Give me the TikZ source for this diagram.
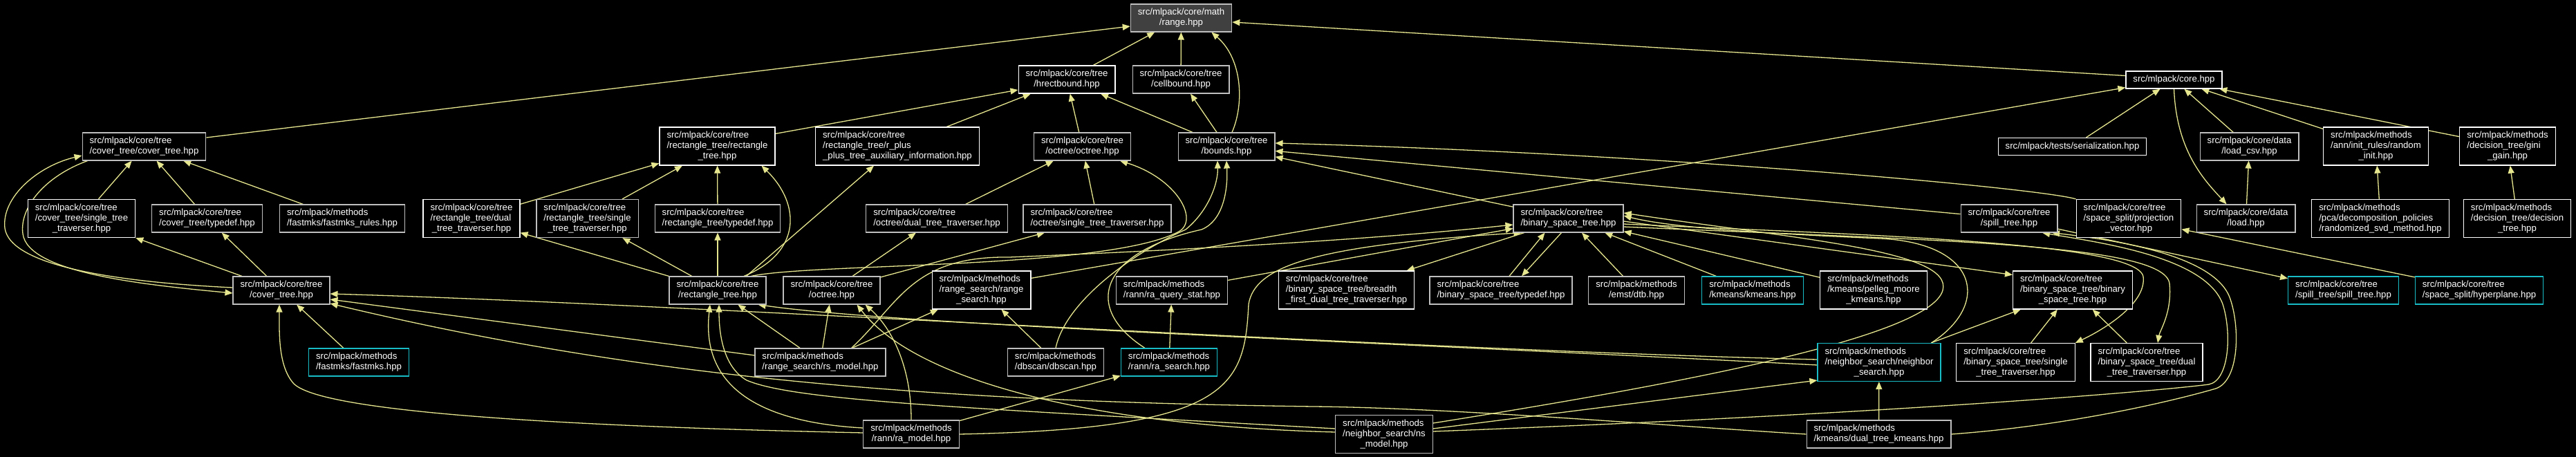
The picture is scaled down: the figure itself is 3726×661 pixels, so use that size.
\documentclass[tikz,border=0pt]{standalone}
\usepackage{fontspec}
\setmainfont{Liberation Sans}
\usetikzlibrary{arrows.meta,calc}
\definecolor{edgec}{RGB}{230,230,143}
\definecolor{gborder}{RGB}{191,191,191}
\definecolor{cborder}{RGB}{24,188,198}
\definecolor{rootfill}{RGB}{64,64,64}
\newcommand{\txtA}[1]{\begin{tabular}{@{}c@{}}#1\end{tabular}}
\newcommand{\txtB}[2]{\begin{tabular}{@{}l@{}}#1\\\multicolumn{1}{@{}c@{}}{#2}\end{tabular}}
\newcommand{\txtC}[3]{\begin{tabular}{@{}l@{}}#1\\#2\\\multicolumn{1}{@{}c@{}}{#3}\end{tabular}}
\pgfdeclarelayer{back}
\pgfdeclarelayer{edges}
\pgfsetlayers{back,edges,main}
\tikzset{
  nbase/.style={rectangle, fill=black, text=white, line width=1.2pt, inner xsep=10.5pt, inner ysep=5pt, font=\fontsize{13.2}{15}\selectfont},
  wbox/.style={nbase, draw=white},
  gbox/.style={nbase, draw=gborder},
  cbox/.style={nbase, draw=cborder},
  rbox/.style={nbase, draw=gborder, fill=rootfill},
  conn/.style={draw=edgec, line width=1.3pt, -{Triangle[length=11pt,width=9pt]}},
}
\begin{document}
\begin{tikzpicture}[x=1pt,y=-1pt]
\useasboundingbox (0,0) rectangle (3726,661);
\begin{pgfonlayer}{back}
\fill[black] (0,0) rectangle (3726,661);
\end{pgfonlayer}
% rank 0 / 1
\node[rbox] (range) at (1708.5,26) {\txtB{src/mlpack/core/math}{/range.hpp}};
\node[wbox] (hrect) at (1543,115) {\txtB{src/mlpack/core/tree}{/hrectbound.hpp}};
\node[gbox] (cell) at (1708,115) {\txtB{src/mlpack/core/tree}{/cellbound.hpp}};
\node[wbox] (core) at (3144.5,115.5) {\txtA{src/mlpack/core.hpp}};
% rank 2
\node[gbox] (ctct) at (208.5,212) {\txtB{src/mlpack/core/tree}{/cover\_tree/cover\_tree.hpp}};
\node[wbox] (rtrt) at (1037.5,211.5) {\txtC{src/mlpack/core/tree}{/rectangle\_tree/rectangle}{\_tree.hpp}};
\node[wbox] (rpp) at (1298,211.5) {\txtC{src/mlpack/core/tree}{/rectangle\_tree/r\_plus}{\_plus\_tree\_auxiliary\_information.hpp}};
\node[gbox] (octoct) at (1565.5,212) {\txtB{src/mlpack/core/tree}{/octree/octree.hpp}};
\node[gbox] (bounds) at (1774,212) {\txtB{src/mlpack/core/tree}{/bounds.hpp}};
\node[wbox] (serial) at (2997.5,212) {\txtA{src/mlpack/tests/serialization.hpp}};
\node[gbox] (loadcsv) at (3253.5,212) {\txtB{src/mlpack/core/data}{/load\_csv.hpp}};
\node[wbox] (rinit) at (3436.5,211.5) {\txtC{src/mlpack/methods}{/ann/init\_rules/random}{\_init.hpp}};
\node[wbox] (gini) at (3627,211.5) {\txtC{src/mlpack/methods}{/decision\_tree/gini}{\_gain.hpp}};
% rank 3
\node[wbox] (ctst) at (118,316) {\txtC{src/mlpack/core/tree}{/cover\_tree/single\_tree}{\_traverser.hpp}};
\node[gbox] (cttd) at (299.5,316) {\txtB{src/mlpack/core/tree}{/cover\_tree/typedef.hpp}};
\node[gbox] (fmr) at (495,316) {\txtB{src/mlpack/methods}{/fastmks/fastmks\_rules.hpp}};
\node[wbox] (rtdt) at (682,316) {\txtC{src/mlpack/core/tree}{/rectangle\_tree/dual}{\_tree\_traverser.hpp}};
\node[gbox] (rtst) at (849.5,316) {\txtC{src/mlpack/core/tree}{/rectangle\_tree/single}{\_tree\_traverser.hpp}};
\node[gbox] (rttd) at (1038,316) {\txtB{src/mlpack/core/tree}{/rectangle\_tree/typedef.hpp}};
\node[gbox] (octdt) at (1355,316) {\txtB{src/mlpack/core/tree}{/octree/dual\_tree\_traverser.hpp}};
\node[gbox] (octst) at (1587,316) {\txtB{src/mlpack/core/tree}{/octree/single\_tree\_traverser.hpp}};
\node[gbox] (bst) at (2268.5,316) {\txtB{src/mlpack/core/tree}{/binary\_space\_tree.hpp}};
\node[gbox] (spill) at (2906,316) {\txtB{src/mlpack/core/tree}{/spill\_tree.hpp}};
\node[wbox] (projv) at (3079,316) {\txtC{src/mlpack/core/tree}{/space\_split/projection}{\_vector.hpp}};
\node[gbox] (load) at (3248.5,316) {\txtB{src/mlpack/core/data}{/load.hpp}};
\node[wbox] (rsvd) at (3443,316) {\txtC{src/mlpack/methods}{/pca/decomposition\_policies}{/randomized\_svd\_method.hpp}};
\node[wbox] (dtree) at (3641,316) {\txtC{src/mlpack/methods}{/decision\_tree/decision}{\_tree.hpp}};
% rank 4
\node[gbox] (covt) at (407,420) {\txtB{src/mlpack/core/tree}{/cover\_tree.hpp}};
\node[gbox] (rect) at (1038,420) {\txtB{src/mlpack/core/tree}{/rectangle\_tree.hpp}};
\node[gbox] (oct) at (1203,420) {\txtB{src/mlpack/core/tree}{/octree.hpp}};
\node[wbox] (rsrch) at (1419.5,419.5) {\txtC{src/mlpack/methods}{/range\_search/range}{\_search.hpp}};
\node[gbox] (rqs) at (1695,420) {\txtB{src/mlpack/methods}{/rann/ra\_query\_stat.hpp}};
\node[wbox] (bfd) at (1947.5,419.5) {\txtC{src/mlpack/core/tree}{/binary\_space\_tree/breadth}{\_first\_dual\_tree\_traverser.hpp}};
\node[gbox] (bsttd) at (2171,420) {\txtB{src/mlpack/core/tree}{/binary\_space\_tree/typedef.hpp}};
\node[gbox] (dtb) at (2367,420) {\txtB{src/mlpack/methods}{/emst/dtb.hpp}};
\node[cbox] (kmeans) at (2535,420) {\txtB{src/mlpack/methods}{/kmeans/kmeans.hpp}};
\node[wbox] (pelleg) at (2710,419.5) {\txtC{src/mlpack/methods}{/kmeans/pelleg\_moore}{\_kmeans.hpp}};
\node[wbox] (bstbst) at (2998,419.5) {\txtC{src/mlpack/core/tree}{/binary\_space\_tree/binary}{\_space\_tree.hpp}};
\node[cbox] (spsp) at (3389.5,420) {\txtB{src/mlpack/core/tree}{/spill\_tree/spill\_tree.hpp}};
\node[cbox] (hyper) at (3586,420) {\txtB{src/mlpack/core/tree}{/space\_split/hyperplane.hpp}};
% rank 5
\node[cbox] (fastmks) at (519,524) {\txtB{src/mlpack/methods}{/fastmks/fastmks.hpp}};
\node[gbox] (rsmodel) at (1186.5,524) {\txtB{src/mlpack/methods}{/range\_search/rs\_model.hpp}};
\node[gbox] (dbscan) at (1527,524) {\txtB{src/mlpack/methods}{/dbscan/dbscan.hpp}};
\node[cbox] (rasearch) at (1691,524) {\txtB{src/mlpack/methods}{/rann/ra\_search.hpp}};
\node[cbox] (nsearch) at (2718,524) {\txtC{src/mlpack/methods}{/neighbor\_search/neighbor}{\_search.hpp}};
\node[wbox] (bstst) at (2915.5,524) {\txtC{src/mlpack/core/tree}{/binary\_space\_tree/single}{\_tree\_traverser.hpp}};
\node[wbox] (bstdt) at (3105,524) {\txtC{src/mlpack/core/tree}{/binary\_space\_tree/dual}{\_tree\_traverser.hpp}};
% rank 6
\node[gbox] (ramodel) at (1318,628) {\txtB{src/mlpack/methods}{/rann/ra\_model.hpp}};
\node[gbox] (nsmodel) at (2002,628) {\txtC{src/mlpack/methods}{/neighbor\_search/ns}{\_model.hpp}};
\node[gbox] (dtkm) at (2717.5,628) {\txtB{src/mlpack/methods}{/kmeans/dual\_tree\_kmeans.hpp}};

\begin{pgfonlayer}{edges}
% top
\draw[conn] (hrect) -- (range);
\draw[conn] (cell) -- (range);
\draw[conn] ($(bounds.north)+(8,0)$) .. controls (1800,150) and (1797,85) .. ($(range.south east)+(-30,0)$);
\draw[conn] ($(core.west)+(0,-6)$) -- ($(range.east)+(0,6)$);
\draw[conn] ($(ctct.east)+(0,-13)$) -- ($(range.west)+(0,12)$);
\draw[conn] ($(rtrt.north east)+(0,10)$) -- ($(hrect.west)+(0,15)$);
\draw[conn] (rpp) -- (hrect);
\draw[conn] (octoct) -- (hrect);
\draw[conn] (bounds) -- (hrect);
\draw[conn] (bounds) -- (cell);
% core
\draw[conn] (loadcsv) -- (core);
\draw[conn] (rinit) -- (core);
\draw[conn] (gini) -- (core);
\draw[conn] (serial) -- (core);
\draw[conn] ($(rsrch.north east)+(0,11)$) -- ($(core.south west)+(0,-2)$);
\draw[conn] (core.south) .. controls (3148,220) and (3190,262) .. ($(load.north)+(-28,0)$);
\draw[conn] (load) -- (loadcsv);
\draw[conn] (rsvd) -- (rinit);
\draw[conn] (dtree) -- (gini);
% bounds right side
\draw[conn] (bst) -- (bounds);
\draw[conn] (spill) -- (bounds);
\draw[conn] (projv.north west) .. controls (2950,272) and (2400,222) .. ($(bounds.east)+(0,-5)$);
\draw[conn] (hyper) -- (projv);
\draw[conn] (spill) -- (spsp);
% cover tree
\draw[conn] (ctst) -- (ctct);
\draw[conn] (cttd) -- (ctct);
\draw[conn] (fmr) -- (ctct);
\draw[conn] ($(covt.west)+(0,-4)$) .. controls (170,408) and (15,385) .. (7,330) .. controls (2,285) and (55,240) .. ($(ctct.west)+(0,13)$);
\draw[conn] ($(ctct.south west)+(8,0)$) .. controls (65,255) and (28,300) .. (33,338) .. controls (40,395) and (210,412) .. ($(covt.west)+(0,4)$);
\draw[conn] (covt) -- (ctst);
\draw[conn] (covt) -- (cttd);
\draw[conn] (fastmks) -- (covt);
\draw[conn] ($(ramodel.west)+(0,-2)$) .. controls (880,618) and (470,600) .. (425,555) .. controls (402,530) and (404,480) .. ($(covt.south)+(-3,0)$);
\draw[conn] ($(nsearch.west)+(0,-4)$) .. controls (2000,505) and (1000,440) .. ($(covt.east)+(0,5)$);
\draw[conn] ($(rsmodel.west)+(0,-10)$) -- ($(covt.east)+(0,13)$);
\draw[conn] (dtkm.west) .. controls (2400,615) and (2100,590) .. (1900,588) .. controls (1300,580) and (900,540) .. ($(covt.east)+(0,19)$);
% rectangle tree
\draw[conn] (rtdt) -- (rtrt);
\draw[conn] (rtst) -- (rtrt);
\draw[conn] (rttd) -- (rtrt);
\draw[conn] ($(rect.north)+(38,0)$) .. controls (1160,365) and (1158,295) .. ($(rtrt.south)+(64,0)$);
\draw[conn] ($(rect.north east)+(-29,0)$) -- ($(rpp.south west)+(85,0)$);
\draw[conn] (rect) -- (rtdt);
\draw[conn] (rect) -- (rtst);
\draw[conn] (rect) -- (rttd);
\draw[conn] ($(ramodel.west)+(0,-9)$) .. controls (1120,612) and (1012,572) .. ($(rect.south)+(-11,0)$);
\draw[conn] ($(nsmodel.west)+(0,-8)$) .. controls (1400,590) and (1150,580) .. (1080,550) .. controls (1045,530) and (1040,480) .. ($(rect.south)+(2,0)$);
\draw[conn] (rsmodel) -- (rect);
\draw[conn] ($(nsearch.west)+(0,4)$) .. controls (2000,495) and (1300,470) .. ($(rect.south east)+(-12,0)$);
\draw[conn] ($(rect.north east)+(-22,0)$) .. controls (1180,380) and (1600,390) .. (1705,335) .. controls (1735,318) and (1702,258) .. ($(octoct.south east)+(-16,0)$);
% octree
\draw[conn] (octdt) -- (octoct);
\draw[conn] (octst) -- (octoct);
\draw[conn] (oct) -- (octdt);
\draw[conn] (oct) -- (octst);
\draw[conn] (rsmodel) -- (oct);
\draw[conn] ($(nsmodel.west)+(0,-3)$) .. controls (1560,615) and (1320,545) .. ($(oct.south east)+(-34,0)$);
\draw[conn] (ramodel.north) .. controls (1318,530) and (1290,475) .. ($(oct.south east)+(-22,0)$);
% range search / rann / dbscan
\draw[conn] (rsmodel) -- (rsrch);
\draw[conn] (dbscan) -- (rsrch);
\draw[conn] (dbscan.north) .. controls (1540,440) and (1630,370) .. (1715,332) .. controls (1748,305) and (1762,265) .. ($(bounds.south)+(-13,0)$);
\draw[conn] ($(rasearch.north)+(-35,0)$) .. controls (1565,445) and (1590,365) .. (1738,332) .. controls (1772,318) and (1776,268) .. (bounds.south);
\draw[conn] (rasearch) -- (rqs);
\draw[conn] (ramodel) -- (rasearch);
\draw[conn] (rqs) -- (bst);
\draw[conn] ($(rsmodel.north)+(45,0)$) .. controls (1300,440) and (1318,370) .. (1460,372) .. controls (1750,360) and (2000,345) .. ($(bst.west)+(0,9)$);
\draw[conn] (ramodel.east) .. controls (1780,620) and (1800,560) .. (1806,440) .. controls (1815,385) and (1900,355) .. ($(bst.south west)+(12,0)$);
% binary space tree
\draw[conn] (bst) -- (bfd);
\draw[conn] ($(bst.south)+(-10,0)$) -- ($(bsttd.north)+(30,0)$);
\draw[conn] ($(bsttd.north)+(12,0)$) -- ($(bst.south)+(-34,0)$);
\draw[conn] (dtb) -- (bst);
\draw[conn] (kmeans) -- (bst);
\draw[conn] (pelleg) -- (bst);
\draw[conn] ($(bst.east)+(0,4)$) -- ($(bstbst.west)+(0,-22)$);
\draw[conn] ($(bst.east)+(0,8)$) .. controls (2700,340) and (3090,350) .. (3100,400) .. controls (3105,440) and (3040,478) .. (bstst.north east);
\draw[conn] ($(bst.east)+(0,12)$) .. controls (2800,348) and (3130,352) .. (3138,410) .. controls (3142,452) and (3124,478) .. ($(bstdt.north)+(16,0)$);
\draw[conn] (bstst) -- (bstbst);
\draw[conn] (bstdt) -- (bstbst);
\draw[conn] (nsearch) -- (bstbst);
\draw[conn] ($(nsearch.north east)+(-14,0)$) .. controls (2880,440) and (2862,352) .. (2720,345) .. controls (2560,338) and (2420,330) .. ($(bst.east)+(0,-4)$);
\draw[conn] ($(nsmodel.east)+(0,-16)$) .. controls (2400,560) and (2790,490) .. (2810,420) .. controls (2826,362) and (2600,346) .. ($(bst.east)+(0,-8)$);
\draw[conn] (dtkm) -- (nsearch);
\draw[conn] ($(nsmodel.east)+(0,-8)$) -- ($(nsearch.south west)+(0,-2)$);
\draw[conn] ($(nsmodel.east)+(0,-4)$) .. controls (2700,600) and (3100,568) .. (3195,556) .. controls (3225,550) and (3228,480) .. (3215,440) .. controls (3190,370) and (3030,350) .. ($(spill.south)+(48,0)$);
\draw[conn] (dtkm.east) .. controls (3000,615) and (3150,578) .. (3205,562) .. controls (3240,550) and (3240,470) .. (3225,430) .. controls (3200,365) and (3040,345) .. ($(spill.south)+(62,0)$);
\end{pgfonlayer}
\end{tikzpicture}
\end{document}
